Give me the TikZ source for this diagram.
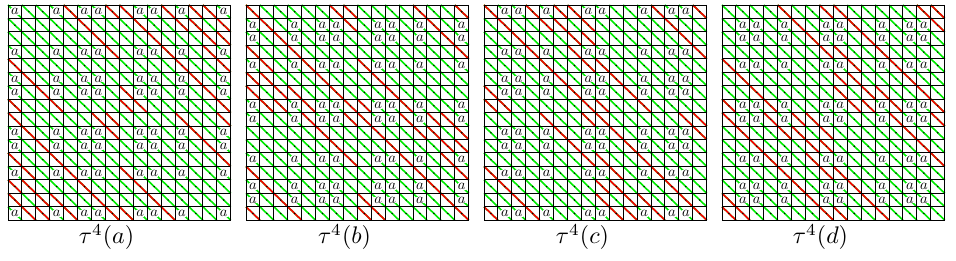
\documentclass[tikz,border=0pt]{standalone}
\usepackage{amsmath}
\usepackage{tikz}
\usetikzlibrary{positioning}

\definecolor{diaggreen}{RGB}{0,235,0}
\definecolor{diagred}{RGB}{245,0,0}

% Thue--Morse bits and cell size
\def\tm{{0,1,1,0,1,0,0,1,1,0,0,1,0,1,1,0}}
\def\cw{13.92}
\def\ch{13.45}

% red cells of the 8x8 blocks (row/col)
\def\patA{0/4,0/7,1/5,2/6,3/7,4/0,5/1,6/2,7/0,7/3}
\def\patB{0/0,0/6,0/7,1/1,1/7,2/2,3/0,3/3,4/1,4/4,5/0,5/1,5/5,6/0,6/2,6/3,6/6,7/1,7/2,7/4,7/7}
\def\patC{0/0,0/3,0/5,0/6,1/1,1/4,1/5,1/7,2/2,2/6,2/7,3/3,3/6,4/4,4/7,5/5,6/0,6/6,7/0,7/1,7/7}

\newcommand\redblock[3]{%
  \foreach \ii/\jj in #3 {
    \draw[red diag] ({#1+\jj*\cw},{#2+\ii*\ch}) -- ++(\cw,\ch);
  }}

\newcommand\tmpanel[8]{%
  % diagonals
  \foreach \ii in {0,...,15}{
    \foreach \jj in {0,...,15}{
      \draw[green diag] ({#1+\jj*\cw},{5+\ii*\ch}) -- ++(\cw,\ch);
    }}
  \redblock{#1}{5}{#5}
  \redblock{#1+8*\cw}{5}{#6}
  \redblock{#1}{5+8*\ch}{#7}
  \redblock{#1+8*\cw}{5+8*\ch}{#8}
  % grid
  \foreach \k in {0,...,16}{
    \draw[grid line] ({#1+\k*\cw},5) -- ++(0,{16*\ch});
    \draw[grid line] (#1,{5+\k*\ch}) -- ++({16*\cw},0);
  }
  % letters and dots
  \foreach \ii in {0,...,15}{
    \foreach \jj in {0,...,15}{
      \pgfmathtruncatemacro\tr{\tm[\ii]}
      \pgfmathtruncatemacro\tc{\tm[\jj]}
      \coordinate (#4-\ii-\jj) at ({#1+(\jj+0.5)*\cw},{5+(\ii+0.5)*\ch});
      \ifnum\tr=#2 \ifnum\tc=#3
        \node[letter] (#4a-\ii-\jj) at (#4-\ii-\jj) {$a$};
      \else \fill (#4-\ii-\jj) circle (0.8); \fi
      \else \fill (#4-\ii-\jj) circle (0.8); \fi
    }}
}

\begin{document}
\begin{tikzpicture}[x=1pt, y=-1pt,
        green diag/.style = {draw=diaggreen, line width=1.6pt},
        red diag/.style = {draw=diagred, line width=1.6pt},
        grid line/.style = {draw=black, line width=0.95pt},
        letter/.style = {fill=white, inner sep=0.2pt, scale=1.45},
        caption/.style = {anchor=base, scale=2.4}
    ]
    \useasboundingbox (0,0) rectangle (956,261);

    % Panels
    \tmpanel{8}{0}{0}{pa}{\patA}{\patC}{\patB}{\patA}
    \tmpanel{246}{1}{0}{pb}{\patB}{\patA}{\patA}{\patC}
    \tmpanel{484}{0}{1}{pc}{\patC}{\patA}{\patA}{\patB}
    \tmpanel{722}{1}{1}{pd}{\patA}{\patB}{\patC}{\patA}

    % Captions
    \node[caption] (cap a) at (106.5,244) {$\tau^4(a)$};
    \node[caption] (cap b) at (344.5,244) {$\tau^4(b)$};
    \node[caption] (cap c) at (582.5,244) {$\tau^4(c)$};
    \node[caption] (cap d) at (820.5,244) {$\tau^4(d)$};

\end{tikzpicture}
\end{document}
